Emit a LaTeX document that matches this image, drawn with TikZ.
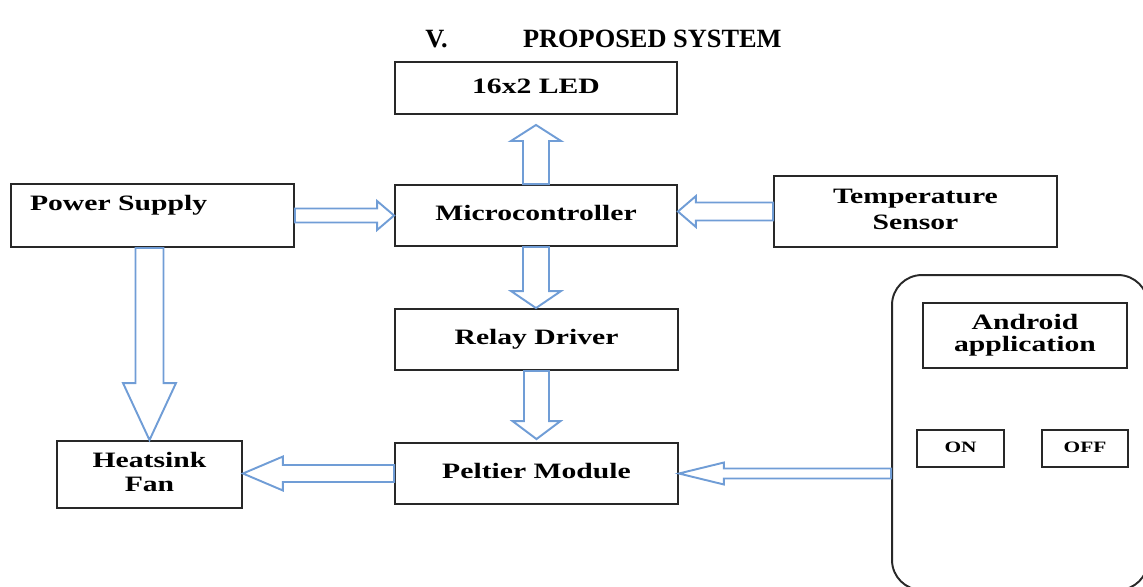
\documentclass[tikz,border=0pt]{standalone}
\usepackage{fontspec}
\setmainfont{Liberation Serif}
\usepackage{graphicx}
\usepackage{tikz}
\usetikzlibrary{calc}

\definecolor{flowblue}{RGB}{112,157,214}
\definecolor{boxgray}{RGB}{40,40,40}

% wide bold label, as in the scanned figure
\newcommand{\wtxt}[1]{\scalebox{1.35}[1]{\begin{tabular}{@{}c@{}}#1\end{tabular}}}

% hollow block arrow: start, end, shaft half width, head half width, head length (px)
\newcommand{\flowarrow}[5]{%
  \draw[flow] let \p1=#1, \p2=#2,
      \n1={atan2(\y2-\y1,\x2-\x1)}, \n2={\n1+90},
      \n3={veclen(\x2-\x1,\y2-\y1)} in
    ($(\p1)+(\n2:{#3*0.02cm})$)
    -- ($(\p1)+(\n1:{\n3*1pt-#5*0.02cm})+(\n2:{#3*0.02cm})$)
    -- ($(\p1)+(\n1:{\n3*1pt-#5*0.02cm})+(\n2:{#4*0.02cm})$)
    -- ($(\p1)+(\n1:{\n3*1pt})$)
    -- ($(\p1)+(\n1:{\n3*1pt-#5*0.02cm})+(\n2:{-#4*0.02cm})$)
    -- ($(\p1)+(\n1:{\n3*1pt-#5*0.02cm})+(\n2:{-#3*0.02cm})$)
    -- ($(\p1)+(\n2:{-#3*0.02cm})$) -- cycle;}

\tikzset{
  block/.style={draw=boxgray, line width=1.1pt, rectangle, inner sep=0pt,
    font=\fontsize{12.5}{14.5}\selectfont\bfseries},
  button/.style={block, font=\fontsize{9}{11}\selectfont\bfseries},
  flow/.style={draw=flowblue, line width=1.1pt, line join=miter},
}

\begin{document}
\begin{tikzpicture}[x=0.02cm,y=-0.02cm]
  \clip (0,0) rectangle (1143,586);
  \node[anchor=base west, inner sep=0pt, font=\fontsize{15}{18}\selectfont\bfseries]
    (title) at (425,47) {V.\hspace{43pt}PROPOSED SYSTEM};

  % blocks
  \node[block, minimum width=5.64cm, minimum height=1.04cm] (led) at (536,88) {\wtxt{16x2 LED}};
  \node[block, minimum width=5.64cm, minimum height=1.22cm] (mc) at (536,215.5) {\wtxt{Microcontroller}};
  \node[block, minimum width=5.66cm, minimum height=1.26cm] (ps) at (152.5,215.5) {};
  \node[block, draw=none, anchor=west] (pstxt) at ($(ps.west)+(19,-10)$) {\wtxt{Power Supply}};
  \node[block, minimum width=5.66cm, minimum height=1.42cm] (ts) at (915.5,211.5) {\wtxt{Temperature\\Sensor}};
  \node[block, minimum width=5.66cm, minimum height=1.22cm] (rd) at (536.5,339.5) {\wtxt{Relay Driver}};
  \node[block, minimum width=5.66cm, minimum height=1.22cm] (pm) at (536.5,473.5) {\wtxt{Peltier Module}};
  \node[block, minimum width=3.7cm, minimum height=1.34cm] (hf) at (149.5,474.5) {\wtxt{Heatsink\\[-1pt]Fan}};

  % phone with the app
  \node[block, rounded corners=17pt, minimum width=5.12cm, minimum height=6.3cm] (phone) at (1020,432.5) {};
  \node[block, minimum width=4.08cm, minimum height=1.3cm] (app) at (1025,335.5) {\wtxt{Android\\[-2pt]application}};
  \node[button, minimum width=1.74cm, minimum height=0.74cm] (on) at (960.5,448.5) {\wtxt{ON}\hspace{10pt}};
  \node[button, minimum width=1.72cm, minimum height=0.74cm] (off) at (1085,448.5) {\wtxt{OFF}};

  % data flow
  \flowarrow{(ps.east)}{(mc.west |- ps.east)}{7}{14.5}{17}
  \flowarrow{(mc.north)}{($(mc.north |- led.south)+(0,10)$)}{13}{25}{16}
  \flowarrow{(mc.south)}{(mc.south |- rd.north)}{13}{25}{17}
  \flowarrow{(rd.south)}{($(rd.south |- pm.north)+(0,-3)$)}{12.5}{24}{18}
  \flowarrow{(hf.north |- ps.south)}{(hf.north)}{14}{26.5}{57}
  \flowarrow{(pm.west)}{(hf.east |- pm.west)}{8.5}{17}{40}
  \flowarrow{(ts.west)}{(mc.east |- ts.west)}{9}{15.5}{18}
  \flowarrow{(phone.west |- pm.east)}{(pm.east)}{5}{11}{45}
\end{tikzpicture}
\end{document}
